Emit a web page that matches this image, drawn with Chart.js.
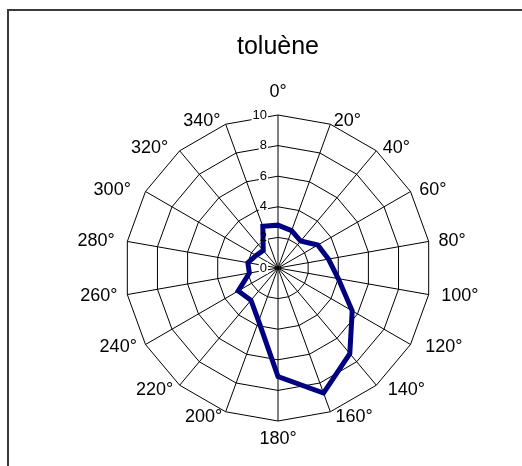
<!DOCTYPE html>
<html>
<head>
<meta charset="utf-8">
<title>toluène</title>
<script src="https://cdn.jsdelivr.net/npm/chart.js@4.4.1/dist/chart.umd.min.js"></script>
<style>
  html, body { margin: 0; padding: 0; background: #ffffff; }
  canvas { display: block; }
</style>
</head>
<body>
<canvas id="chart" width="522" height="466"></canvas>
<script>
// Wind directions (degrees) and the toluene reading for each sector
const directions = ['0°', '20°', '40°', '60°', '80°', '100°', '120°', '140°', '160°',
                    '180°', '200°', '220°', '240°', '260°', '280°', '300°', '320°', '340°'];
const tolueneValues = [2.8, 2.6, 2.3, 3.0, 3.35, 4.0, 5.6, 7.3, 8.7,
                       7.1, 3.7, 2.75, 3.0, 1.9, 2.0, 1.65, 1.5, 2.9];
const radialTicks = [0, 2, 4, 6, 8, 10];
const chartTitle = 'toluène';

const FONT = "'Liberation Sans', Arial, Helvetica, sans-serif";
const TICK_FONT = '13px ' + FONT;
const LABEL_FONT = '18px ' + FONT;

// Frame, value-axis labels on the 0° spoke and direction labels around the web
const radarDecor = {
  id: 'radarDecor',
  beforeDraw(chart) {
    const ctx = chart.ctx;
    ctx.save();
    ctx.strokeStyle = '#3a3a3a';
    ctx.lineWidth = 2;
    ctx.strokeRect(8, 10, chart.width + 20, chart.height + 20);
    ctx.restore();
  },
  beforeDatasetsDraw(chart) {
    // white boxes behind the value labels hide the grid under them
    const r = chart.scales.r;
    const ctx = chart.ctx;
    ctx.save();
    ctx.font = TICK_FONT;
    ctx.fillStyle = '#ffffff';
    radialTicks.forEach(v => {
      const p = r.getPointPositionForValue(0, v);
      const w = ctx.measureText(String(v)).width;
      ctx.fillRect(p.x - 11 - w - 1, p.y - 6, w + 2, 12);
    });
    ctx.restore();
  },
  afterDatasetsDraw(chart) {
    const r = chart.scales.r;
    const ctx = chart.ctx;
    ctx.save();
    ctx.fillStyle = '#000000';

    ctx.font = TICK_FONT;
    ctx.textAlign = 'right';
    ctx.textBaseline = 'middle';
    radialTicks.forEach(v => {
      const p = r.getPointPositionForValue(0, v);
      ctx.fillText(String(v), p.x - 11, p.y);
    });

    ctx.font = LABEL_FONT;
    directions.forEach((label, i) => {
      const a = r.getIndexAngle(i);
      const deg = Math.round(a * 180 / Math.PI) % 360;
      let x, y;
      if (deg === 0) {
        ctx.textAlign = 'center'; ctx.textBaseline = 'bottom';
        ({x, y} = r.getPointPosition(i, r.drawingArea + 14));
      } else if (deg === 180) {
        ctx.textAlign = 'center'; ctx.textBaseline = 'top';
        ({x, y} = r.getPointPosition(i, r.drawingArea + 9));
      } else {
        // side labels sit beside the outer vertex, centred on its height;
        // the lower-right and upper-left ones are pushed a little further out
        const sin = Math.sin(a), cos = Math.cos(a);
        const padX = 10 + 16 * Math.max(0, -sin * cos);
        const padY = cos < 0 ? 6 : 3;
        ctx.textAlign = deg < 180 ? 'left' : 'right';
        ctx.textBaseline = 'middle';
        x = r.getPointPosition(i, r.drawingArea + padX).x;
        y = r.getPointPosition(i, r.drawingArea + padY).y;
      }
      ctx.fillText(label, x, y);
    });
    ctx.restore();
  }
};

new Chart(document.getElementById('chart'), {
  type: 'radar',
  data: {
    labels: directions,
    datasets: [{
      label: chartTitle,
      data: tolueneValues,
      borderColor: '#000080',
      borderWidth: 5,
      fill: false,
      tension: 0,
      pointRadius: 0,
      pointHoverRadius: 0
    }]
  },
  options: {
    responsive: false,
    animation: false,
    devicePixelRatio: 1,
    layout: { padding: { top: 0, bottom: 45, left: 50, right: 16 } },
    plugins: {
      legend: { display: false },
      tooltip: { enabled: false },
      title: {
        display: true,
        text: chartTitle,
        color: '#000000',
        font: { family: FONT, size: 25, weight: 'normal', lineHeight: '28px' },
        padding: { top: 33, bottom: 54 }
      }
    },
    scales: {
      r: {
        min: 0,
        max: 10,
        startAngle: 0,
        ticks: { stepSize: 2, display: false },
        grid: { color: '#000000', lineWidth: 1 },
        angleLines: { color: '#000000', lineWidth: 1 },
        pointLabels: { display: false }
      }
    }
  },
  plugins: [radarDecor]
});
</script>
</body>
</html>
